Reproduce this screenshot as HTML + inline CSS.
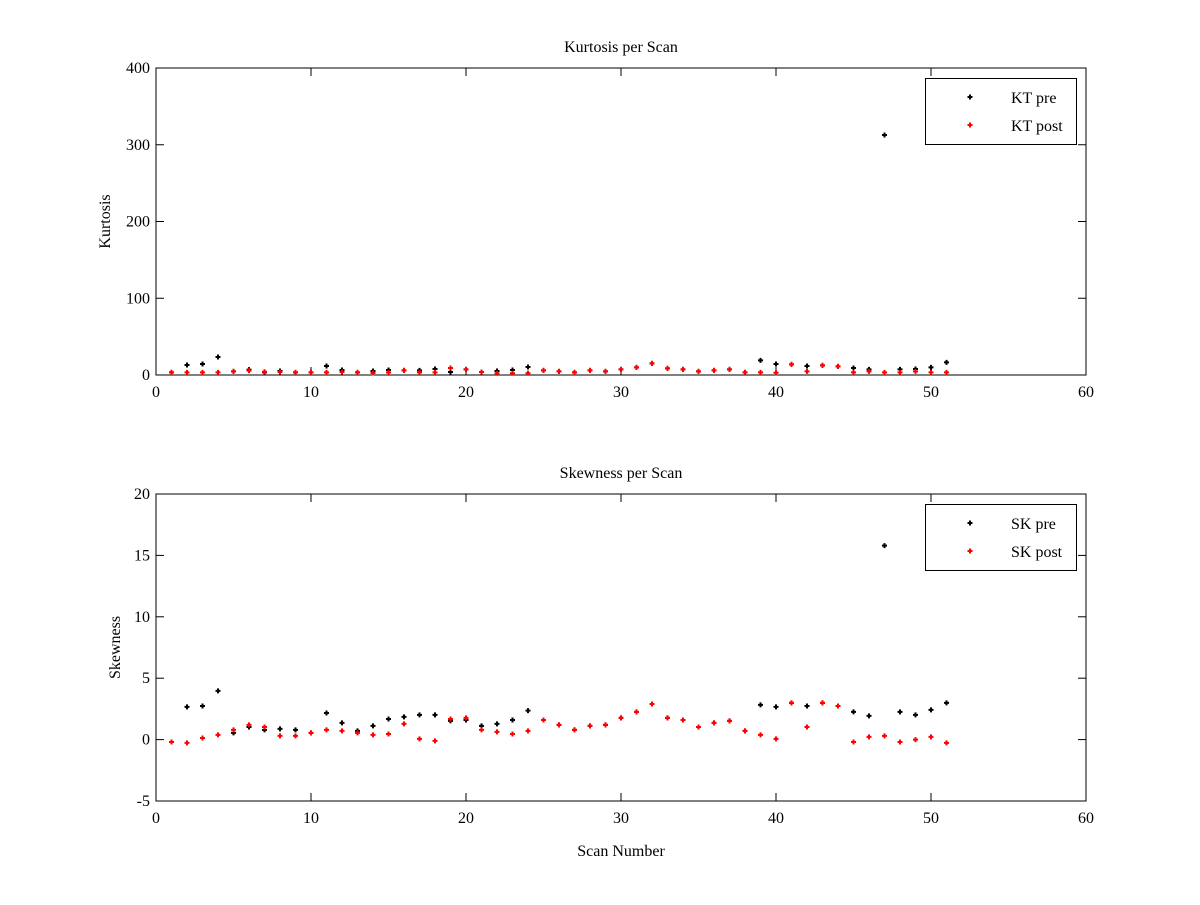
<!DOCTYPE html>
<html><head><meta charset="utf-8"><style>
body{margin:0;background:#fff;}
svg text{font-family:"Liberation Serif",serif;font-size:16px;fill:#000;}
</style></head><body>
<svg id="chart" width="1200" height="900" xmlns="http://www.w3.org/2000/svg">
<rect width="1200" height="900" fill="#fff"/>
</svg>
<script>
const scans = Array.from({length:51},(_,i)=>i+1);
const ktPre = [3.5,13,14.3,23.4,4.8,7,3.5,5.2,3.5,3.5,11.7,6.5,3.5,5.2,6.5,6.1,6.1,7.8,3.9,7.4,3.9,5.2,6.5,10.4,6.1,4.8,3.5,6.1,4.8,7.4,10,15.2,8.7,7.4,4.8,6.1,7.4,3.5,19.1,14.3,13.9,11.7,12.6,11.3,9.1,7.4,312.7,7.4,7.8,10,16.5];
const ktPost = [3.5,3.5,3.5,3.5,4.8,5.7,4.3,3.9,3.5,3.5,3.5,3.9,3.5,2.6,3.5,6.1,3.5,3.5,9.1,7.4,3.9,2.2,2.2,2.2,6.1,4.8,3.5,6.1,4.8,7.4,10,15.2,8.7,7.4,4.8,6.1,7.4,3.5,3.5,3.0,13.9,4.8,12.6,11.3,3.5,4.8,3.5,3.5,4.8,3.5,3.5];
const skPre = [-0.2,2.66,2.74,3.97,0.55,1.03,0.79,0.87,0.79,0.55,2.17,1.36,0.71,1.12,1.68,1.85,2.01,2.01,1.52,1.6,1.12,1.28,1.6,2.36,1.6,1.2,0.79,1.12,1.2,1.77,2.26,2.9,1.77,1.6,1.03,1.36,1.52,0.71,2.83,2.66,2.99,2.74,2.99,2.74,2.26,1.93,15.8,2.26,2.01,2.42,2.99];
const skPost = [-0.2,-0.27,0.13,0.38,0.79,1.2,1.03,0.3,0.3,0.55,0.79,0.71,0.55,0.38,0.46,1.28,0.06,-0.1,1.68,1.77,0.79,0.63,0.46,0.71,1.6,1.2,0.79,1.12,1.2,1.77,2.26,2.9,1.77,1.6,1.03,1.36,1.52,0.71,0.38,0.06,2.99,1.03,2.99,2.74,-0.2,0.22,0.3,-0.2,0.0,0.22,-0.27];
const xTicks=[0,10,20,30,40,50,60];
const ktTicks=[0,100,200,300,400];
const skTicks=[-5,0,5,10,15,20];

const NS='http://www.w3.org/2000/svg';
const svg=document.getElementById('chart');
function mk(tag,attrs,parent){const e=document.createElementNS(NS,tag);for(const k in attrs)e.setAttribute(k,attrs[k]);(parent||svg).appendChild(e);return e;}
const X0=156,X1=1086;
const xs=v=>X0+(v-0)/(60-0)*(X1-X0);

function panel(cfg){
  const g=mk('g',{});
  
  
  const ys=v=>cfg.yb-(v-cfg.ymin)/(cfg.ymax-cfg.ymin)*(cfg.yb-cfg.yt);
  const ax=mk('rect',{x:X0,y:cfg.yt,width:X1-X0,height:cfg.yb-cfg.yt,fill:'none',stroke:'#000','stroke-width':1},g);
  
  
  xTicks.forEach(t=>{const x=xs(t);
    mk('line',{x1:x,y1:cfg.yb,x2:x,y2:cfg.yb-8,stroke:'#000'},g);
    mk('line',{x1:x,y1:cfg.yt,x2:x,y2:cfg.yt+8,stroke:'#000'},g);
    const tx=mk('text',{x:x,y:cfg.yb+22,'text-anchor':'middle'},g);tx.textContent=t;
    
    });
  cfg.ticks.forEach(t=>{const y=ys(t);
    mk('line',{x1:X0,y1:y,x2:X0+8,y2:y,stroke:'#000'},g);
    mk('line',{x1:X1,y1:y,x2:X1-8,y2:y,stroke:'#000'},g);
    const tx=mk('text',{x:X0-6,y:y+5,'text-anchor':'end'},g);tx.textContent=t;
    
    });
  const ti=mk('text',{x:621,y:cfg.yt-16,'text-anchor':'middle'},g);ti.textContent=cfg.title;
  
  
  const yl=mk('text',{x:0,y:0,'text-anchor':'middle',transform:`translate(${cfg.ylx},${(cfg.yt+cfg.yb)/2}) rotate(-90)`},g);yl.textContent=cfg.ylabel;
  
  
  function marker(x,y,c,nm){const p=mk('path',{d:`M${x-2.5},${y}H${x+2.5}M${x},${y-2.5}V${y+2.5}`,stroke:c,'stroke-width':2},g);
    
    }
  scans.forEach((s,i)=>marker(xs(s),ys(cfg.pre[i]),'#000',cfg.short+'-pre-point'));
  scans.forEach((s,i)=>marker(xs(s),ys(cfg.post[i]),'#f00',cfg.short+'-post-point'));
  const lg=mk('g',{},g);
  
  
  mk('rect',{x:925.5,y:cfg.yt+10.5,width:151,height:66,fill:'#fff',stroke:'#000'},lg);
  [[cfg.short.toUpperCase()+' pre','#000',29],[cfg.short.toUpperCase()+' post','#f00',57]].forEach(([t,c,dy])=>{
    const y=cfg.yt+dy;marker(970,y,c,'legend-marker');
    const tx=mk('text',{x:1011,y:y+6},lg);tx.textContent=t;
    
    });
}
panel({name:'kurtosis-panel',short:'kt',title:'Kurtosis per Scan',ylabel:'Kurtosis',yt:68,yb:375,ymin:0,ymax:400,ticks:ktTicks,pre:ktPre,post:ktPost,ylx:110});
panel({name:'skewness-panel',short:'sk',title:'Skewness per Scan',ylabel:'Skewness',yt:494,yb:801,ymin:-5,ymax:20,ticks:skTicks,pre:skPre,post:skPost,ylx:120});
const xl=mk('text',{x:621,y:856,'text-anchor':'middle'});xl.textContent='Scan Number';


</script>
</body></html>
